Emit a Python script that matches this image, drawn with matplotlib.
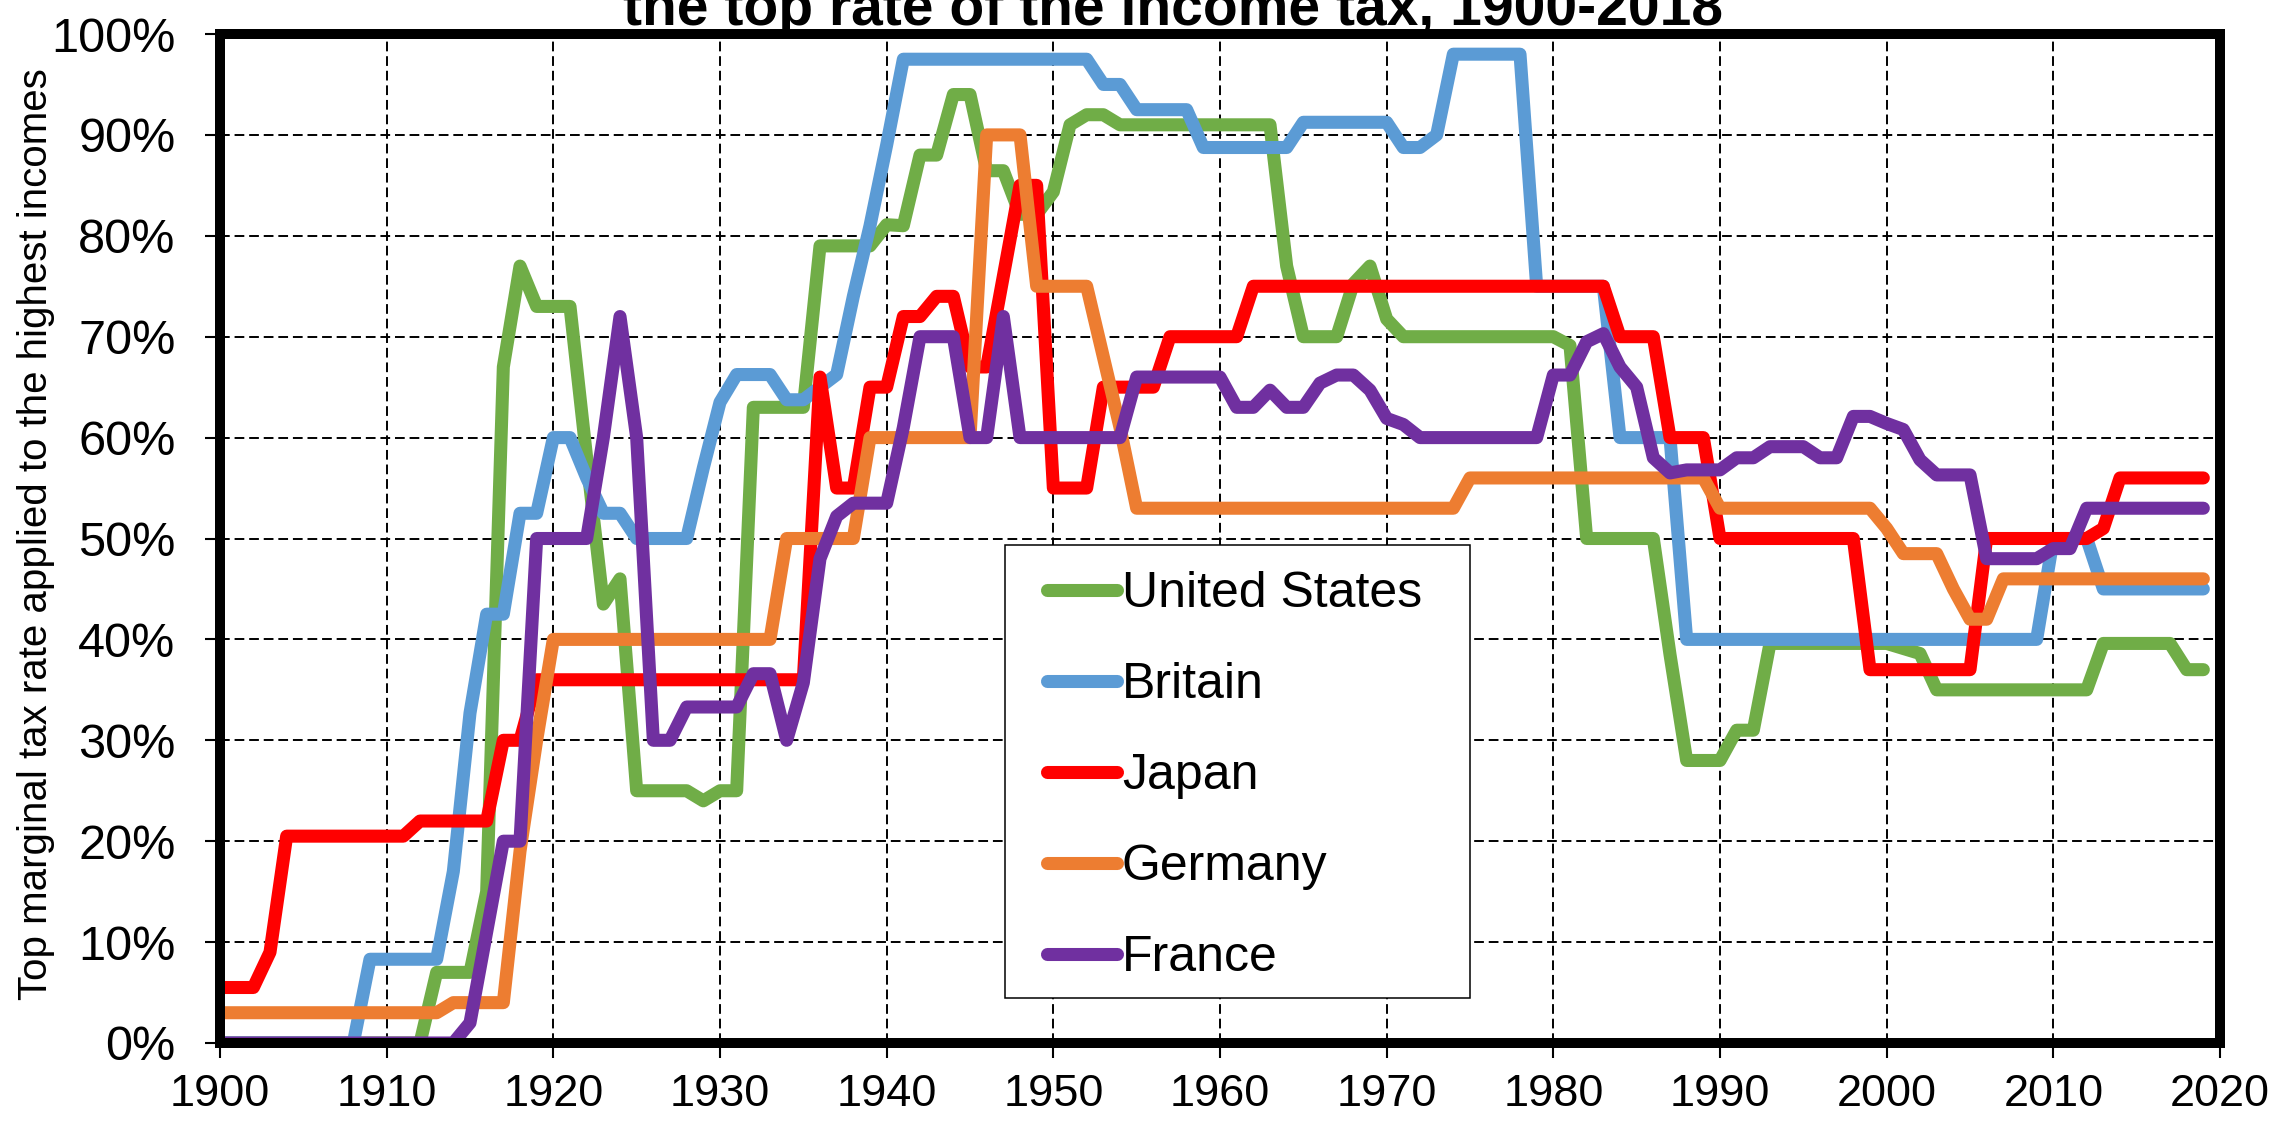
import matplotlib
matplotlib.use("Agg")
import matplotlib.pyplot as plt
import matplotlib.ticker as mticker
from matplotlib.patches import Rectangle

plt.rcParams["font.family"] = ["Liberation Sans", "DejaVu Sans"]

years = list(range(1900, 2020))

# top marginal income tax rates (%), one value per year 1900-2019
united_states = [
    0, 0, 0, 0, 0, 0, 0, 0, 0, 0,
    0, 0, 0, 7, 7, 7, 15, 67, 77, 73,
    73, 73, 58, 43.5, 46, 25, 25, 25, 25, 24,
    25, 25, 63, 63, 63, 63, 79, 79, 79, 79,
    81.1, 81, 88, 88, 94, 94, 86.45, 86.45, 82.13, 82.13,
    84.36, 91, 92, 92, 91, 91, 91, 91, 91, 91,
    91, 91, 91, 91, 77, 70, 70, 70, 75.25, 77,
    71.75, 70, 70, 70, 70, 70, 70, 70, 70, 70,
    70, 69.13, 50, 50, 50, 50, 50, 38.5, 28, 28,
    28, 31, 31, 39.6, 39.6, 39.6, 39.6, 39.6, 39.6, 39.6,
    39.6, 39.1, 38.6, 35, 35, 35, 35, 35, 35, 35,
    35, 35, 35, 39.6, 39.6, 39.6, 39.6, 39.6, 37, 37,
]
britain = [
    0, 0, 0, 0, 0, 0, 0, 0, 0, 8.3,
    8.3, 8.3, 8.3, 8.3, 17, 32.7, 42.5, 42.5, 52.5, 52.5,
    60, 60, 56, 52.5, 52.5, 50, 50, 50, 50, 57,
    63.5, 66.25, 66.25, 66.25, 63.75, 63.75, 65, 66.25, 74, 81,
    89, 97.5, 97.5, 97.5, 97.5, 97.5, 97.5, 97.5, 97.5, 97.5,
    97.5, 97.5, 97.5, 95, 95, 92.5, 92.5, 92.5, 92.5, 88.75,
    88.75, 88.75, 88.75, 88.75, 88.75, 91.25, 91.25, 91.25, 91.25, 91.25,
    91.25, 88.75, 88.75, 90, 98, 98, 98, 98, 98, 75,
    75, 75, 75, 75, 60, 60, 60, 60, 40, 40,
    40, 40, 40, 40, 40, 40, 40, 40, 40, 40,
    40, 40, 40, 40, 40, 40, 40, 40, 40, 40,
    50, 50, 50, 45, 45, 45, 45, 45, 45, 45,
]
japan = [
    5.5, 5.5, 5.5, 9, 20.5, 20.5, 20.5, 20.5, 20.5, 20.5,
    20.5, 20.5, 22, 22, 22, 22, 22, 30, 30, 36,
    36, 36, 36, 36, 36, 36, 36, 36, 36, 36,
    36, 36, 36, 36, 36, 36, 66, 55, 55, 65,
    65, 72, 72, 74, 74, 67, 67, 76, 85, 85,
    55, 55, 55, 65, 65, 65, 65, 70, 70, 70,
    70, 70, 75, 75, 75, 75, 75, 75, 75, 75,
    75, 75, 75, 75, 75, 75, 75, 75, 75, 75,
    75, 75, 75, 75, 70, 70, 70, 60, 60, 60,
    50, 50, 50, 50, 50, 50, 50, 50, 50, 37,
    37, 37, 37, 37, 37, 37, 50, 50, 50, 50,
    50, 50, 50, 51, 56, 56, 56, 56, 56, 56,
]
germany = [
    3, 3, 3, 3, 3, 3, 3, 3, 3, 3,
    3, 3, 3, 3, 4, 4, 4, 4, 19, 30,
    40, 40, 40, 40, 40, 40, 40, 40, 40, 40,
    40, 40, 40, 40, 50, 50, 50, 50, 50, 60,
    60, 60, 60, 60, 60, 60, 90, 90, 90, 75,
    75, 75, 75, 68, 61, 53, 53, 53, 53, 53,
    53, 53, 53, 53, 53, 53, 53, 53, 53, 53,
    53, 53, 53, 53, 53, 56, 56, 56, 56, 56,
    56, 56, 56, 56, 56, 56, 56, 56, 56, 56,
    53, 53, 53, 53, 53, 53, 53, 53, 53, 53,
    51, 48.5, 48.5, 48.5, 45, 42, 42, 46, 46, 46,
    46, 46, 46, 46, 46, 46, 46, 46, 46, 46,
]
france = [
    0, 0, 0, 0, 0, 0, 0, 0, 0, 0,
    0, 0, 0, 0, 0, 2, 11, 20, 20, 50,
    50, 50, 50, 60, 72, 60, 30, 30, 33.3, 33.3,
    33.3, 33.3, 36.6, 36.6, 30, 35.7, 48, 52.2, 53.5, 53.5,
    53.5, 61, 70, 70, 70, 60, 60, 72, 60, 60,
    60, 60, 60, 60, 60, 66, 66, 66, 66, 66,
    66, 63, 63, 64.7, 63, 63, 65.4, 66.2, 66.2, 64.7,
    61.9, 61.3, 60, 60, 60, 60, 60, 60, 60, 60,
    66.2, 66.2, 69.5, 70.3, 67, 65, 58, 56.5, 56.8, 56.8,
    56.8, 58, 58, 59.1, 59.1, 59.1, 58, 58, 62.1, 62.1,
    61.4, 60.8, 57.8, 56.3, 56.3, 56.3, 48, 48, 48, 48,
    49, 49, 53, 53, 53, 53, 53, 53, 53, 53,
]

names = ["United States", "Britain", "Japan", "Germany", "France"]
colors = ["#70AD47", "#5B9BD5", "#FF0000", "#ED7D31", "#7030A0"]
series = [united_states, britain, japan, germany, france]

title = "the top rate of the income tax, 1900-2018"
ylabel = "Top marginal tax rate applied to the highest incomes"

fig = plt.figure(figsize=(22.8, 11.26), dpi=100)
ax = fig.add_axes([220 / 2280, 1 - 1043 / 1126, 2000 / 2280, 1009 / 1126])

for name, vals, c in zip(names, series, colors):
    ax.plot(years, vals, color=c, lw=9.4, label=name,
            solid_capstyle="round", solid_joinstyle="round")

ax.set_xlim(1900, 2020)
ax.set_ylim(0, 100)
ax.set_xticks(range(1900, 2021, 10))
ax.set_yticks(range(0, 101, 10))
ax.yaxis.set_major_formatter(mticker.PercentFormatter(xmax=100, decimals=0))

ax.set_axisbelow(True)
ax.grid(True, color="black", lw=1.4, linestyle=(0, (5, 2.5)))
for s in ax.spines.values():
    s.set_linewidth(7.2)
    s.set_color("black")
ax.tick_params(direction="out", length=11, width=1.5, colors="black")
ax.tick_params(axis="y", labelsize=35, pad=21)
ax.tick_params(axis="x", labelsize=32.5, pad=11)

fig.text(36 / 2280, 1 - 534 / 1126, ylabel, rotation=90, ha="center",
         va="center", fontsize=29)
# the title is cropped at the top edge, as in the source image
fig.text(1173 / 2280, 1 - 25 / 1126, title, ha="center", va="baseline",
         fontsize=41, fontweight="bold")

# legend box
ax.add_patch(Rectangle((1005 / 2280, 1 - 998 / 1126), 465 / 2280, 453 / 1126,
                       transform=fig.transFigure, facecolor="white",
                       edgecolor="black", lw=1.1, zorder=4))
ax.legend(loc="upper left", bbox_to_anchor=(1047 / 2280, 1 - 571 / 1126),
          bbox_transform=fig.transFigure, frameon=False, fontsize=36,
          handlelength=1.4, handletextpad=0.1, labelspacing=0.9,
          borderpad=0, borderaxespad=0)

fig.savefig("out.png", dpi=100)
